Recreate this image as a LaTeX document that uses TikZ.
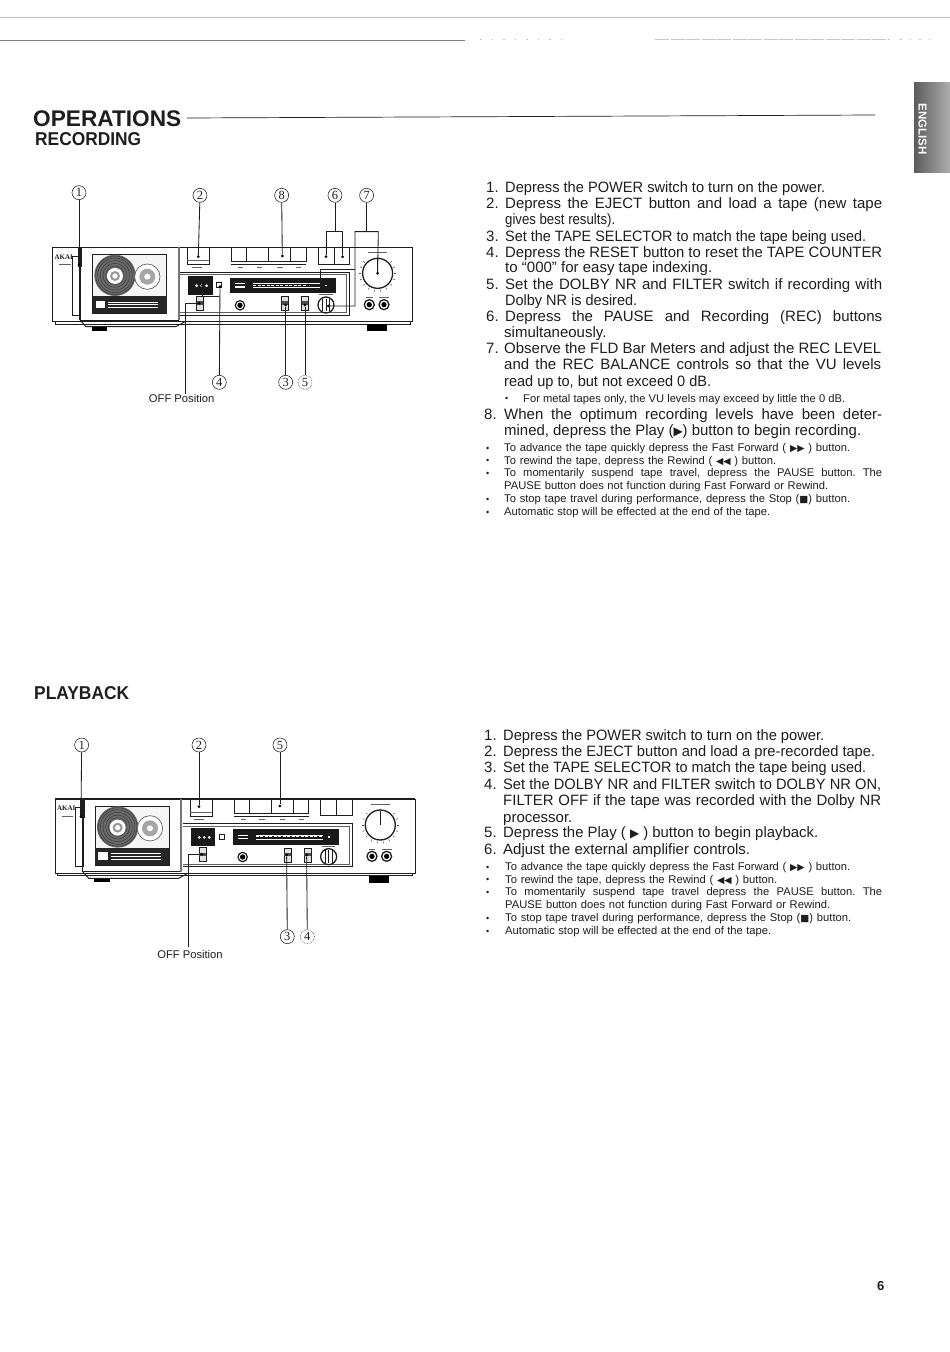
\documentclass[tikz,border=0pt]{standalone}
\usepackage{fontspec}
\usepackage{graphicx}
\setmainfont{Liberation Sans}
\newfontfamily\serifnum{Liberation Serif}
\newfontfamily\sym{DejaVu Sans}
\frenchspacing
\newcount\txtno
\newsavebox\fitbox
\newcommand\fitline[2]{\sbox\fitbox{#2}\ifdim\wd\fitbox>#1\resizebox{#1}{\height}{\usebox\fitbox}\else\makebox[#1][s]{#2}\fi}
% x, baseline y, right end, text (set to exact width)
\newcommand\tl[4]{\global\advance\txtno by 1
  \node[txtline,font=\fontsize{15}{16}\selectfont] (t\the\txtno) at (#1,#2) {\fitline{\dimexpr #3pt-#1pt\relax}{#4}};}
\newcommand\ts[4]{\global\advance\txtno by 1
  \node[txtline,font=\fontsize{11.2}{12}\selectfont] (t\the\txtno) at (#1,#2) {\fitline{\dimexpr #3pt-#1pt\relax}{#4}};}
\newcommand\tn[3]{\global\advance\txtno by 1
  \node[txtline,font=\fontsize{15}{16}\selectfont] (t\the\txtno) at (#1,#2) {#3.};}
\newcommand\tb[2]{\global\advance\txtno by 1
  \node[txtline,font=\fontsize{9}{10}\selectfont] (t\the\txtno) at (#1,#2) {•};}
\newcommand\symb[1]{{\sym\fontsize{9.5}{10}\selectfont #1}}
\newcommand\symbig[1]{{\sym\fontsize{12}{12}\selectfont #1}}
\definecolor{ink}{HTML}{1E1E1E}
\tikzset{
  txtline/.style={anchor=base west,inner sep=0pt,text=ink},
  num/.style={circle,draw=ink,line width=.55pt,inner sep=0pt,minimum size=14pt,font=\serifnum\fontsize{12.5}{13}\selectfont,text=ink},
  numd/.style={num,densely dotted},
  lead/.style={draw=ink,line width=.85pt},
  tipdot/.style={fill=black,circle,inner sep=0pt,minimum size=3pt},
  dev/.style={draw=ink,line width=.9pt},
  devthin/.style={draw=ink!70,line width=.4pt},
}
\newcommand\devicebody{%
  % shadow base and feet
  \draw[dev] (75,455)--(75,462)--(1140,462)--(1140,455);
  \fill[black] (185,470) rectangle (232,482);
  \fill[black] (1010,462) rectangle (1070,484);
  \draw[dev] (68,232) rectangle (1147,455);
  \draw[line width=1.3pt,ink] (68,232)--(1147,232);
  % door
  \draw[dev,fill=white] (150,232) rectangle (445,450);
  \draw[dev] (150,450)--(168,470)--(438,470)--(465,455);
  \fill[ink!60] (443,232) rectangle (449,450);
  \draw[line width=1.2pt,ink] (150,232)--(150,450);
  % power switch
  \draw[dev] (128,258) rectangle (152,435);
  \fill[ink] (143,232) rectangle (156,290);
  \node[inner sep=0pt,font=\serifnum\bfseries\fontsize{7}{7}\selectfont,text=ink] (akai\devid) at (101,261) {AKAI};
  \draw[devthin] (87,283)--(122,283);
  % cassette window
  \draw[dev,fill=black!4] (188,254) rectangle (410,430);
  \fill[black!85] (188,378) rectangle (410,430);
  \fill[black!58] (255,316) circle [radius=62];
  \foreach \r in {28,36,44,52,58} \draw[black!78,line width=.5pt] (255,316) circle [radius=\r];
  \fill[white] (255,318) circle [radius=24];
  \fill[black!40] (255,318) circle [radius=15];
  \fill[white] (255,318) circle [radius=8];
  \draw[black!60,line width=.7pt,fill=white] (352,320) circle [radius=38];
  \fill[black!35] (352,320) circle [radius=24];
  \fill[white] (352,320) circle [radius=9];
  \fill[white] (197,392) rectangle (225,415);
  \foreach \y in {396,404,412} \draw[white,line width=.5pt] (234,\y)--(385,\y);
  % eject and transport buttons
  \draw[dev] (472,232) rectangle (538,283);
  \draw[devthin] (472,272)--(538,272);
  \draw[dev] (604,232)--(604,275)--(828,275)--(828,232);
  \foreach \x in {650,716,782} \draw[dev] (\x,232)--(\x,275);
  \draw[dev] (604,283)--(828,283);
  \foreach \x in {632,688,750,806} \draw[ink!70,line width=.5pt] (\x-8,293)--(\x+8,293);
  \draw[dev] (864,232) rectangle (958,282);
  \draw[dev] (912,232)--(912,282);
  \draw[ink!70,line width=.5pt] (485,293)--(515,293);
  % panel
  \draw[dev] (450,306)--(958,306)--(958,435)--(450,435);
  \draw[devthin] (450,314)--(950,314)--(950,428)--(450,428);
  \fill[black!90] (474,318) rectangle (548,374);
  \foreach \x in {500,515,530} \draw[white,line width=.7pt] (\x,347) circle [radius=3];
  \draw[dev] (560,338) rectangle (575,352);
  \fill[black!90] (600,323) rectangle (918,370);
  \foreach \y in {341,351} \fill[white] (615,\y-2) rectangle (645,\y+2);
  \draw[white,line width=.6pt] (670,340)--(870,340) (670,352)--(870,352);
  \draw[white,line width=1pt,dash pattern=on 3pt off 1.5pt] (670,346)--(870,346);
  \fill[white] (885,344) rectangle (891,348);
  % jack, sliders, knob
  \draw[line width=1.2pt,ink] (630,406) circle [radius=14];
  \fill[black] (630,406) circle [radius=8];
  \draw[dev,fill=black!12] (500,378) rectangle (520,420);
  \draw[dev,fill=black!12] (755,380) rectangle (775,422);
  \draw[dev,fill=black!12] (815,380) rectangle (835,422);
  \fill[black!70] (500,394) rectangle (520,404);
  \fill[black!70] (755,394) rectangle (775,404);
  \fill[black!70] (815,394) rectangle (835,404);
  \draw[line width=1.3pt,ink] (888,405) circle [radius=24];
  \foreach \x in {878,888,898} \draw[dev] (\x,386)--(\x,424);
  \draw[devthin] (868,374)--(908,374);
  % level dial
  \draw[line width=1.3pt,ink] (1043,310) circle [radius=45];
  \foreach \a in {-40,-20,...,220} \draw[ink!80,line width=.5pt] ($(1043,310)+(\a:50)$)--($(1043,310)+(\a:56)$);
  \draw[devthin] (1015,247)--(1072,247);
  \draw[dev] (1043,268)--(1043,310);
  % output jacks
  \foreach \x in {1018,1062} {\draw[line width=1.3pt,ink] (\x,404) circle [radius=15]; \fill[black] (\x,404) circle [radius=8];}
  \draw[devthin] (1008,382)--(1028,382) (1048,382)--(1078,382);
}
\usetikzlibrary{calc}
\begin{document}
\begin{tikzpicture}[x=1pt,y=-1pt]
\useasboundingbox (0,0) rectangle (950,1352);
\fill[white] (0,0) rectangle (950,1352);
% page edge lines
\draw[black!25,line width=.6pt] (0,17)--(950,17);
\draw[black!50,line width=.6pt] (0,40)--(465,40);
\draw[black!25,line width=.5pt,dash pattern=on 1.5pt off 10pt] (480,39.5)--(565,39.5);
\draw[black!22,line width=.5pt,dash pattern=on 14pt off 1.5pt] (655,39.5)--(890,39.5);
\draw[black!25,line width=.5pt,dash pattern=on 1.5pt off 8pt] (900,39.5)--(930,39.5);
% language tab
\shade[left color=black!64,right color=black!32] (914,82) rectangle (950,172);
\node[rotate=-90,inner sep=0pt,text=white,font=\bfseries\fontsize{11.5}{12}\selectfont] (tab) at (922.5,129) {ENGLISH};
% headings
\node[txtline,font=\bfseries] (hop) at (33,126.5) {\resizebox{148pt}{15.8pt}{OPERATIONS}};
\draw[ink,line width=.7pt] (187,118)--(875,115);
\node[txtline,font=\bfseries] (hrec) at (35,145) {\resizebox{106pt}{13pt}{RECORDING}};
\node[txtline,font=\bfseries] (hplay) at (34,699) {\resizebox{95pt}{13pt}{PLAYBACK}};
\node[txtline,font=\bfseries\fontsize{13}{14}\selectfont] (pg) at (877,1290) {6};
% ---- recording device
\begin{scope}[shift={(30,170)},x=.3333pt,y=-.3333pt]
\def\devid{a}
\devicebody
\node[num] (a1) at (147,68) {1};
\node[num] (a2) at (510,76) {2};
\node[num] (a8) at (755,76) {8};
\node[num] (a6) at (915,76) {6};
\node[num] (a7) at (1010,76) {7};
\node[num] (a4) at (568,637) {4};
\node[num] (a3) at (767,637) {3};
\node[numd] (a5) at (825,637) {5};
\node[inner sep=0pt,font=\fontsize{11.2}{12}\selectfont,text=ink] (aoff) at (455,687) {OFF Position};
\node[tipdot] (p1) at (147,285) {};
\node[tipdot] (p2) at (505,260) {};
\node[tipdot] (p8) at (757,258) {};
\node[tipdot] (p6a) at (888,260) {};
\node[tipdot] (p6b) at (938,260) {};
\node[tipdot] (p7a) at (1043,310) {};
\node[tipdot] (p7b) at (895,408) {};
\node[tipdot] (p7c) at (835,345) {};
\node[tipdot] (p4a) at (570,350) {};
\node[tipdot] (p4b) at (517,347) {};
\node[tipdot] (p3) at (767,405) {};
\node[tipdot] (p5) at (825,405) {};
\node[tipdot] (poff) at (508,400) {};
\coordinate (b6) at (915,185);
\coordinate (b7) at (1010,185);
\coordinate (aoffup) at (467,672);
\draw[lead] (a1)--(p1);
\draw[lead] (a2)--(p2);
\draw[lead] (a8)--(p8);
\draw[lead] (a6)--(b6);
\draw[lead] (p6a)--(888,185)--(938,185)--(p6b);
\draw[lead] (a7)--(b7);
\draw[lead] (p7a)--(1045,185)--(975,185)--(975,408)--(p7b);
\draw[lead] (p7c)--(870,345)--(870,297)--(975,297);
\draw[lead] (a4)--(p4a);
\draw[lead] (568,378)--(517,378)--(p4b);
\draw[lead] (a3)--(p3);
\draw[lead] (a5)--(p5);
\draw[lead] (aoffup)--(467,400)--(poff);
\end{scope}
% ---- playback device
\begin{scope}[shift={(30,720)},x=.3333pt,y=-.3333pt]
\begin{scope}[shift={(8,5)}]
\def\devid{b}
\devicebody
\end{scope}
\node[num] (c1) at (155,75) {1};
\node[num] (c2) at (507,75) {2};
\node[num] (c5) at (750,75) {5};
\node[num] (c3) at (772,650) {3};
\node[numd] (c4) at (832,650) {4};
\node[inner sep=0pt,font=\fontsize{11.2}{12}\selectfont,text=ink] (coff) at (480,705) {OFF Position};
\node[tipdot] (q1) at (153,290) {};
\node[tipdot] (q2) at (507,260) {};
\node[tipdot] (q5) at (750,258) {};
\node[tipdot] (q3) at (770,405) {};
\node[tipdot] (q4) at (830,405) {};
\node[tipdot] (qoff) at (515,403) {};
\coordinate (coffup) at (475,682);
\draw[lead] (c1)--(q1);
\draw[lead] (c2)--(q2);
\draw[lead] (c5)--(q5);
\draw[lead] (c3)--(q3);
\draw[lead] (c4)--(q4);
\draw[lead] (coffup)--(475,403)--(qoff);
\end{scope}
% ---- recording text
\tn{486}{192}{1}\tl{505}{192}{825}{Depress the POWER switch to turn on the power.}
\tn{486}{208}{2}\tl{505}{208}{882}{Depress the EJECT button and load a tape (new tape}
\tl{505}{224}{615}{gives best results).}
\tn{486}{241}{3}\tl{505}{241}{866}{Set the TAPE SELECTOR to match the tape being used.}
\tn{486}{257}{4}\tl{505}{257}{882}{Depress the RESET button to reset the TAPE COUNTER}
\tl{505}{272}{712}{to “000” for easy tape indexing.}
\tn{486}{289}{5}\tl{505}{289}{882}{Set the DOLBY NR and FILTER switch if recording with}
\tl{505}{305}{637}{Dolby NR is desired.}
\tn{486}{321}{6}\tl{505}{321}{882}{Depress the PAUSE and Recording (REC) buttons}
\tl{504}{337}{608}{simultaneously.}
\tn{486}{353}{7}\tl{504}{353}{881}{Observe the FLD Bar Meters and adjust the REC LEVEL}
\tl{504}{369}{881}{and the REC BALANCE controls so that the VU levels}
\tl{504}{386}{711}{read up to, but not exceed 0 dB.}
\tb{505}{401}\ts{523}{402}{845}{For metal tapes only, the VU levels may exceed by little the 0 dB.}
\tn{484}{419}{8}\tl{504}{419}{882}{When the optimum recording levels have been deter-}
\tl{504}{435}{861}{mined, depress the Play (\symbig{▶}) button to begin recording.}
\tb{486}{451}\ts{504}{451}{850}{To advance the tape quickly depress the Fast Forward ( \symb{▶▶} ) button.}
\tb{486}{463}\ts{504}{464}{776}{To rewind the tape, depress the Rewind ( \symb{◀◀} ) button.}
\tb{486}{476}\ts{504}{476}{882}{To momentarily suspend tape travel, depress the PAUSE button. The}
\ts{504}{489}{828}{PAUSE button does not function during Fast Forward or Rewind.}
\tb{486}{502}\ts{504}{502}{850}{To stop tape travel during performance, depress the Stop (\symb{■}) button.}
\tb{486}{515}\ts{504}{515}{770}{Automatic stop will be effected at the end of the tape.}
% ---- playback text
\tn{484}{740}{1}\tl{503}{740}{824}{Depress the POWER switch to turn on the power.}
\tn{484}{756}{2}\tl{503}{756}{875}{Depress the EJECT button and load a pre-recorded tape.}
\tn{484}{772}{3}\tl{503}{772}{866}{Set the TAPE SELECTOR to match the tape being used.}
\tn{484}{789}{4}\tl{503}{789}{881}{Set the DOLBY NR and FILTER switch to DOLBY NR ON,}
\tl{503}{805}{881}{FILTER OFF if the tape was recorded with the Dolby NR}
\tl{503}{822}{573}{processor.}
\tn{484}{837}{5}\tl{503}{837}{818}{Depress the Play ( \symbig{▶} ) button to begin playback.}
\tn{484}{854}{6}\tl{503}{854}{750}{Adjust the external amplifier controls.}
\tb{486}{870}\ts{505}{870}{850}{To advance the tape quickly depress the Fast Forward ( \symb{▶▶} ) button.}
\tb{486}{882}\ts{505}{883}{777}{To rewind the tape, depress the Rewind ( \symb{◀◀} ) button.}
\tb{486}{895}\ts{505}{895}{882}{To momentarily suspend tape travel depress the PAUSE button. The}
\ts{505}{908}{830}{PAUSE button does not function during Fast Forward or Rewind.}
\tb{486}{921}\ts{505}{921}{851}{To stop tape travel during performance, depress the Stop (\symb{■}) button.}
\tb{486}{934}\ts{505}{934}{771}{Automatic stop will be effected at the end of the tape.}
\end{tikzpicture}
\end{document}
